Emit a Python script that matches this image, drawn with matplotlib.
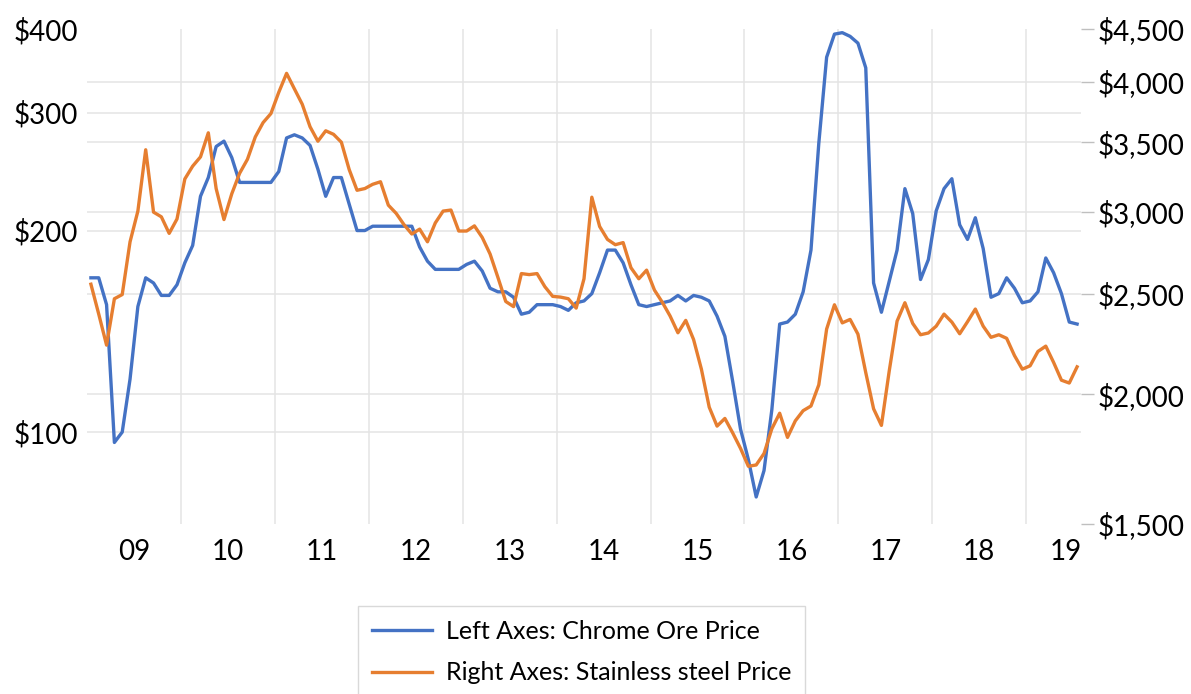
import matplotlib.pyplot as plt
from matplotlib.ticker import FixedLocator, FuncFormatter, NullLocator

# monthly prices, Jan 2009 - Jul 2019
chrome = [170, 170, 155, 96.5, 100, 120, 154, 170, 167, 160,
          160, 166, 179, 190, 225, 240, 267, 272, 257, 236,
          236, 236, 236, 236, 245, 275, 278, 275, 268, 247,
          225, 240, 240, 219, 200, 200, 203, 203, 203, 203,
          203, 203, 189, 180, 175, 175, 175, 175, 178, 180,
          174, 164, 162, 162, 159, 150, 151, 155, 155, 155,
          154, 152, 156, 157, 161, 173, 187, 187, 179, 166,
          155, 154, 155, 156, 157, 160, 157, 160, 159, 157,
          149, 139, 119, 101, 91, 80, 87.6, 108, 145, 146,
          150, 162, 187, 270, 363, 393, 395, 390, 381, 350,
          167, 151, 168, 187, 231, 212, 169, 181, 214, 231,
          239, 204, 194, 209, 188, 159, 161, 170, 164, 156,
          157, 162, 182, 173, 161, 146, 145]

steel = [2554, 2390, 2231, 2473, 2496, 2806, 3004, 3442, 2997, 2966,
         2859, 2952, 3226, 3319, 3388, 3574, 3158, 2948, 3122, 3267,
         3370, 3541, 3656, 3730, 3910, 4078, 3940, 3808, 3622, 3508,
         3590, 3562, 3500, 3294, 3146, 3158, 3188, 3206, 3044, 2989,
         2915, 2855, 2886, 2806, 2926, 3004, 3011, 2874, 2874, 2907,
         2833, 2731, 2593, 2458, 2430, 2615, 2609, 2615, 2540, 2486,
         2482, 2473, 2422, 2585, 3098, 2903, 2821, 2788, 2801, 2649,
         2585, 2635, 2521, 2454, 2380, 2293, 2357, 2259, 2115, 1944,
         1864, 1896, 1836, 1774, 1705, 1710, 1754, 1853, 1918, 1818,
         1886, 1929, 1949, 2043, 2312, 2440, 2344, 2362, 2286, 2099,
         1937, 1867, 2107, 2353, 2451, 2341, 2283, 2292, 2327, 2390,
         2348, 2288, 2350, 2417, 2327, 2270, 2283, 2265, 2180, 2115,
         2131, 2200, 2226, 2147, 2064, 2051, 2126]

years = ['09', '10', '11', '12', '13', '14', '15', '16', '17', '18', '19']
left_ticks = [100, 200, 300, 400]
right_ticks = [1500, 2000, 2500, 3000, 3500, 4000, 4500]

plt.rcParams['font.family'] = ['Lato', 'DejaVu Sans']

blue = '#4472C4'
orange = '#E67E30'
grid_col = '#e4e4e4'

n = len(chrome)
months = list(range(n))
year_bounds = [12 * k - 0.5 for k in range(1, 11)]
label_pos = [12 * k + 5.5 for k in range(10)] + [124.6]

fig = plt.figure(figsize=(11.91, 6.94), dpi=100)
rect = [87 / 1191, 1 - 524 / 694, (1081 - 87) / 1191, (524 - 29) / 694]

# bottom layer: right-axis gridlines
axg = fig.add_axes(rect)
axg.set_yscale('log')
axg.set_ylim(1500, 4500)
axg.set_xlim(-0.5, n - 0.5)
for v in right_ticks[1:-1]:
    axg.axhline(v, color=grid_col, lw=1.1)
axg.axis('off')

# left axis: chrome ore
ax1 = fig.add_axes(rect)
ax1.patch.set_visible(False)
ax1.set_yscale('log')
ax1.set_ylim(72.9, 400)
ax1.set_xlim(-0.5, n - 0.5)
for v in left_ticks[:-1]:
    ax1.axhline(v, color=grid_col, lw=1.1, zorder=1)
l1, = ax1.plot(months, chrome, color=blue, lw=2.4, zorder=3)
ax1.yaxis.set_major_locator(FixedLocator(left_ticks))
ax1.yaxis.set_minor_locator(NullLocator())
ax1.yaxis.set_major_formatter(FuncFormatter(lambda v, p: f'${v:,.0f}'))
ax1.set_xticks(label_pos)
ax1.set_xticklabels(years)
ax1.set_xticks(year_bounds, minor=True)
ax1.grid(True, which='minor', axis='x', color=grid_col, lw=1.1)
ax1.tick_params(axis='x', which='both', length=0, pad=11, labelsize=20)
ax1.tick_params(axis='y', which='both', length=0, pad=6.5, labelsize=20)
for s in ax1.spines.values():
    s.set_visible(False)

# right axis: stainless steel
ax2 = ax1.twinx()
ax2.set_yscale('log')
ax2.set_ylim(1500, 4500)
l2, = ax2.plot(months, steel, color=orange, lw=2.4)
ax2.yaxis.set_major_locator(FixedLocator(right_ticks))
ax2.yaxis.set_minor_locator(NullLocator())
ax2.yaxis.set_major_formatter(FuncFormatter(lambda v, p: f'${v:,.0f}'))
ax2.tick_params(axis='y', which='major', length=9, width=1, color='#bfbfbf',
                pad=3, labelsize=20)
for s in ax2.spines.values():
    s.set_visible(False)

leg = fig.legend([l1, l2],
                 ['Left Axes: Chrome Ore Price', 'Right Axes: Stainless steel Price'],
                 loc='upper left', bbox_to_anchor=(358 / 1191, 1 - 606 / 694),
                 fontsize=18, handlelength=2.4, handletextpad=0.55,
                 labelspacing=0.75, borderpad=0.55, borderaxespad=0,
                 frameon=True, fancybox=False, edgecolor='#d9d9d9', framealpha=1)
leg.get_frame().set_linewidth(1)

fig.savefig('out.png', dpi=100)
